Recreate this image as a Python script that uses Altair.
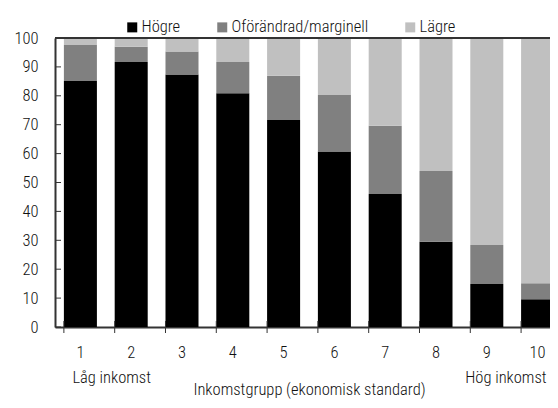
import altair as alt
import pandas as pd

groups = ["1", "2", "3", "4", "5", "6", "7", "8", "9", "10"]
series = ["Högre", "Oförändrad/marginell", "Lägre"]
hogre = [85.1, 91.7, 87.4, 80.9, 71.6, 60.7, 46.0, 29.5, 14.9, 9.6]
oforandrad = [12.5, 5.3, 7.9, 10.8, 15.3, 19.6, 23.6, 24.5, 13.5, 5.5]
lagre = [2.4, 3.0, 4.7, 8.3, 13.1, 19.7, 30.4, 46.0, 71.6, 84.9]
colors = ["#000000", "#808080", "#c0c0c0"]
y_ticks = [0, 10, 20, 30, 40, 50, 60, 70, 80, 90, 100]
low_label = "Låg inkomst"
high_label = "Hög inkomst"
x_title = "Inkomstgrupp (ekonomisk standard)"

rows = []
for i, g in enumerate(groups):
    for k, (s, vals) in enumerate(zip(series, [hogre, oforandrad, lagre])):
        rows.append({"grupp": g, "serie": s, "ordning": k, "andel": vals[i]})
df = pd.DataFrame(rows)

W, H = 495, 289          # visible plot area
FULL_W = 508             # the band scale runs past the right edge, as in the reference
FONT = "Roboto Condensed"
FW = 300
FS = 16.5
TXT = "#111111"
LINE = "#333333"

x_scale = alt.Scale(range=[0, FULL_W], paddingInner=0.35, paddingOuter=0.175)
x_axis = alt.Axis(title=x_title, labelAngle=0, ticks=False, tickSize=0,
                  labelPadding=30, labelBaseline="alphabetic",
                  titleY=67, titleBaseline="alphabetic",
                  domainColor=LINE, domainWidth=2)
y_axis = alt.Axis(title=None, values=y_ticks, ticks=False, tickSize=0,
                  labelPadding=17, grid=False, domainColor=LINE, domainWidth=2)

bars = alt.Chart(df).mark_bar().encode(
    x=alt.X("grupp:N", sort=groups, scale=x_scale, axis=x_axis),
    y=alt.Y("andel:Q", stack="zero", scale=alt.Scale(domain=[0, 100], nice=False), axis=y_axis),
    color=alt.Color("serie:N", sort=series,
                    scale=alt.Scale(domain=series, range=colors),
                    legend=alt.Legend(title=None, orient="none", legendX=69, legendY=-19,
                                      direction="horizontal", symbolType="square",
                                      symbolSize=100, symbolStrokeWidth=0,
                                      labelOffset=1, columnPadding=33)),
    order=alt.Order("ordning:Q"),
)

ytick_df = pd.DataFrame({"andel": y_ticks})
yticks = alt.Chart(ytick_df).mark_rule(color=LINE, strokeWidth=1).encode(
    y=alt.Y("andel:Q", axis=y_axis),
    x=alt.value(0),
    x2=alt.value(6),
)

xtick_df = pd.DataFrame({"grupp": groups})
xticks = alt.Chart(xtick_df).mark_rule(color=LINE, strokeWidth=1).encode(
    x=alt.X("grupp:N", sort=groups, bandPosition=0, axis=x_axis),
    y=alt.value(H - 6),
    y2=alt.value(H + 6),
)

top_line = alt.Chart(xtick_df).mark_rule(color=LINE, strokeWidth=2).encode(
    x=alt.value(0), x2=alt.value(W + 20), y=alt.value(0)
)

low = alt.Chart(pd.DataFrame({"grupp": ["1"], "txt": [low_label]})).mark_text(
    align="left", baseline="alphabetic", dx=-8, fontSize=FS, font=FONT, fontWeight=FW, color=TXT
).encode(x=alt.X("grupp:N", sort=groups, axis=x_axis), y=alt.value(345), text="txt:N")

high = alt.Chart(pd.DataFrame({"grupp": ["10"], "txt": [high_label]})).mark_text(
    align="right", baseline="alphabetic", dx=9, fontSize=FS, font=FONT, fontWeight=FW, color=TXT
).encode(x=alt.X("grupp:N", sort=groups, axis=x_axis), y=alt.value(345), text="txt:N")

chart = alt.layer(bars, yticks, xticks, top_line, low, high).properties(
    width=W, height=H,
    autosize=alt.AutoSizeParams(type="none"),
    padding={"left": 47, "top": 30, "right": 0, "bottom": 73},
).configure_view(
    stroke="transparent"
).configure_axis(
    labelFont=FONT, labelFontSize=FS, labelFontWeight=FW, labelColor=TXT,
    titleFont=FONT, titleFontSize=FS, titleColor=TXT, titleFontWeight=FW,
).configure_legend(
    labelFont=FONT, labelFontSize=FS, labelFontWeight=FW, labelColor=TXT,
)

chart.save("out.html", embed_options={"renderer": "svg", "actions": False})
